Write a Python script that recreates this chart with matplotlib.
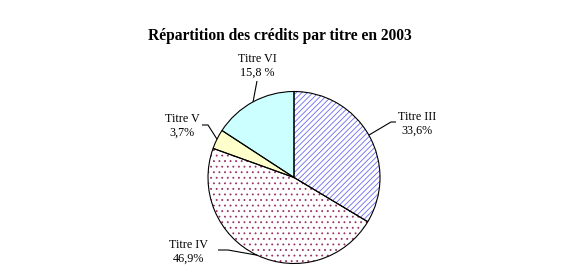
import matplotlib
matplotlib.use("Agg")
import matplotlib.pyplot as plt
import numpy as np

categories = ["Titre III", "Titre IV", "Titre V", "Titre VI"]
values = [33.6, 46.9, 3.7, 15.8]
label_texts = ["Titre III\n33,6%", "Titre IV\n46,9%", "Titre V\n3,7%", "Titre VI\n15,8 %"]
title = "Répartition des crédits par titre en 2003"

face_colors = ["white", "white", "#ffffcc", "#ccffff"]
hatch_colors = ["#6a6af0", "#993366", "none", "none"]
hatches = ["//////", "...", "", ""]

plt.rcParams["font.family"] = ["Liberation Serif", "DejaVu Serif"]
plt.rcParams["hatch.linewidth"] = 0.6

W, H = 565, 280
fig = plt.figure(figsize=(W / 100, H / 100), dpi=100)
fig.patch.set_facecolor("white")

cx, cy, r = 294, 177.5, 86
ax = fig.add_axes([(cx - r) / W, (H - cy - r) / H, 2 * r / W, 2 * r / H])

# base fill
ax.pie(values, startangle=90, counterclock=False, colors=face_colors,
       wedgeprops=dict(linewidth=0), normalize=True, frame=True)
# hatch overlay
w2, _ = ax.pie(values, startangle=90, counterclock=False,
               wedgeprops=dict(linewidth=0, facecolor="none"), normalize=True, frame=True)
for w, hc, h in zip(w2, hatch_colors, hatches):
    w.set_facecolor("none")
    if h:
        w.set_hatch(h)
        w.set_edgecolor(hc)
    else:
        w.set_edgecolor("none")
# outline
w3, _ = ax.pie(values, startangle=90, counterclock=False,
               wedgeprops=dict(linewidth=0.8, edgecolor="black", facecolor="none"),
               normalize=True, frame=True)
ax.set_xlim(-1, 1)
ax.set_ylim(-1, 1)
ax.axis("off")

def px(x, y):
    return ((x - cx) / r, (cy - y) / r)

# label layout (pixel positions): elbow, end, text center
layout = [
    dict(elbow=(391, 122), end=(396, 122), text=(417, 124)),
    dict(elbow=(228, 250), end=(218, 250), text=(188, 252)),
    dict(elbow=(208, 125), end=(202, 125), text=(182, 126)),
    dict(elbow=(257, 81), end=(257, 81), text=(257, 66)),
]

for wdg, lab, lay in zip(w3, label_texts, layout):
    mid = np.deg2rad((wdg.theta1 + wdg.theta2) / 2)
    ex, ey = np.cos(mid), np.sin(mid)
    e1 = px(*lay["elbow"])
    e2 = px(*lay["end"])
    ax.plot([ex, e1[0], e2[0]], [ey, e1[1], e2[1]], color="black", lw=0.8,
            clip_on=False, solid_capstyle="butt")
    t = px(*lay["text"])
    ax.text(t[0], t[1], lab, ha="center", va="center", fontsize=8.7,
            linespacing=1.25, clip_on=False)

fig.text(279.5 / W, 1 - 36 / H, title, ha="center", va="center",
         fontsize=11.2, fontweight="bold")

fig.savefig("out.png", dpi=100, facecolor="white")
